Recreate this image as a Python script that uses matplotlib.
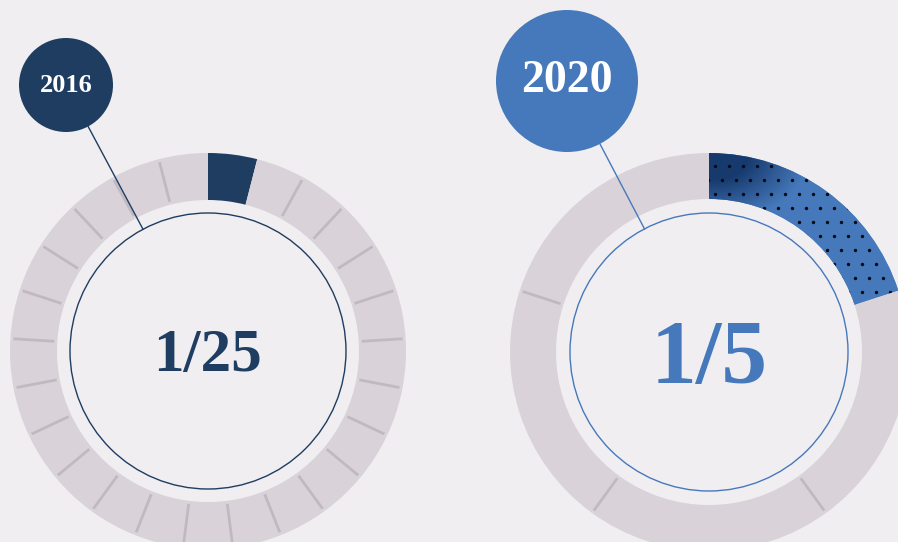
import numpy as np
import matplotlib
matplotlib.use("Agg")
import matplotlib.pyplot as plt
from matplotlib.patches import Wedge, Circle
from matplotlib.colors import LinearSegmentedColormap

# ---- data ----
years = ["2016", "2020"]
numerators = [1, 1]
denominators = [25, 5]
ratio_labels = ["1/25", "1/5"]

# ---- style ----
BG = "#f0eef1"
RING = "#d9d3d9"
DIVIDER = "#c1b9c1"
NAVY = "#1e3d60"
BLUE = "#4679bb"

W, H = 898, 542
fig = plt.figure(figsize=(W / 100, H / 100), dpi=100, facecolor=BG)
ax = fig.add_axes([0, 0, 1, 1])
ax.set_xlim(0, W)
ax.set_ylim(0, H)
ax.set_aspect("equal")
ax.axis("off")
ax.set_facecolor(BG)

# layout per donut (pixel coords, y up)
centers = [(208, 191), (709, 190)]
r_outer = [198, 199]
ring_w = [47, 46]
r_thin = [138, 139]
main_colors = [NAVY, BLUE]
label_centers = [(66, 457), (567, 461)]
label_radii = [47, 71]
label_sizes = [19, 33]
ratio_sizes = [44, 66]
ratio_offsets = [-5, -9]


def seg_angles(i, n):
    step = 360.0 / n
    return 90 - (i + 1) * step, 90 - i * step


for k in range(len(years)):
    cx, cy = centers[k]
    ro, w = r_outer[k], ring_w[k]
    ri = ro - w
    n = denominators[k]
    m = numerators[k]
    col = main_colors[k]

    filled_wedge = None
    for i in range(n):
        t1, t2 = seg_angles(i, n)
        fc = col if i < m else RING
        wd = Wedge((cx, cy), ro, t1, t2, width=w, facecolor=fc, edgecolor="none", zorder=2)
        ax.add_patch(wd)
        if i < m:
            filled_wedge = wd

    # dividers between unfilled segments
    for i in range(n):
        if i <= m:
            continue
        th = np.deg2rad(90 - i * 360.0 / n)
        r1, r2 = ri + 3, ro - 3
        ax.plot([cx + r1 * np.cos(th), cx + r2 * np.cos(th)],
                [cy + r1 * np.sin(th), cy + r2 * np.sin(th)],
                color=DIVIDER, lw=2.0, solid_capstyle="butt", zorder=3)

    # texture on the 2020 filled segment
    if k == 1 and filled_wedge is not None:
        x0, x1 = cx, cx + ro + 2
        y0, y1 = cy, cy + ro + 2
        xs = np.linspace(x0, x1, 200)
        ys = np.linspace(y0, y1, 200)
        XX, YY = np.meshgrid(xs, ys)
        d = np.hypot((XX - (cx + 5)) * 0.9, (YY - (cy + ro - 3)) * 1.3)
        val = np.clip((d - 30) / 55.0, 0, 1)
        cmap = LinearSegmentedColormap.from_list("g", ["#173a6e", BLUE])
        im = ax.imshow(val, extent=(x0, x1, y0, y1), origin="lower", cmap=cmap,
                       vmin=0, vmax=1, zorder=2.5, interpolation="bilinear")
        im.set_clip_path(filled_wedge)
        ax.set_xlim(0, W)
        ax.set_ylim(0, H)
        # staggered dot pattern
        sp = 14.0
        pts_x, pts_y = [], []
        for r_i, yy in enumerate(np.arange(H - 165.7, cy, -sp)):
            off = 0 if r_i % 2 == 0 else sp / 2
            for xx in np.arange(cx + 6 + off - sp, cx + ro + sp, sp):
                pts_x.append(xx)
                pts_y.append(yy)
        sc = ax.scatter(pts_x, pts_y, s=6, color="#0a0a12", linewidths=0, zorder=3)
        sc.set_clip_path(filled_wedge)

    # thin inner circle
    ax.add_patch(Circle((cx, cy), r_thin[k], facecolor="none", edgecolor=col, lw=1.0, zorder=4))

    # leader line from label circle toward donut center, stopping at thin circle
    lx, ly = label_centers[k]
    vx, vy = cx - lx, cy - ly
    dist = np.hypot(vx, vy)
    ux, uy = vx / dist, vy / dist
    sx, sy = lx + ux * label_radii[k], ly + uy * label_radii[k]
    ex, ey = cx - ux * r_thin[k], cy - uy * r_thin[k]
    ax.plot([sx, ex], [sy, ey], color=col, lw=1.0, zorder=4)

    # label circle
    ax.add_patch(Circle((lx, ly), label_radii[k], facecolor=col, edgecolor="none", zorder=5))
    ax.text(lx, ly, years[k], ha="center", va="center", color="white",
            fontsize=label_sizes[k], fontweight="bold", family="Liberation Serif", zorder=6)

    # ratio text
    ax.text(cx, cy + ratio_offsets[k], ratio_labels[k], ha="center", va="center", color=col,
            fontsize=ratio_sizes[k], fontweight="bold", family="Liberation Serif", zorder=6)

fig.savefig("out.png", dpi=100, facecolor=BG)
